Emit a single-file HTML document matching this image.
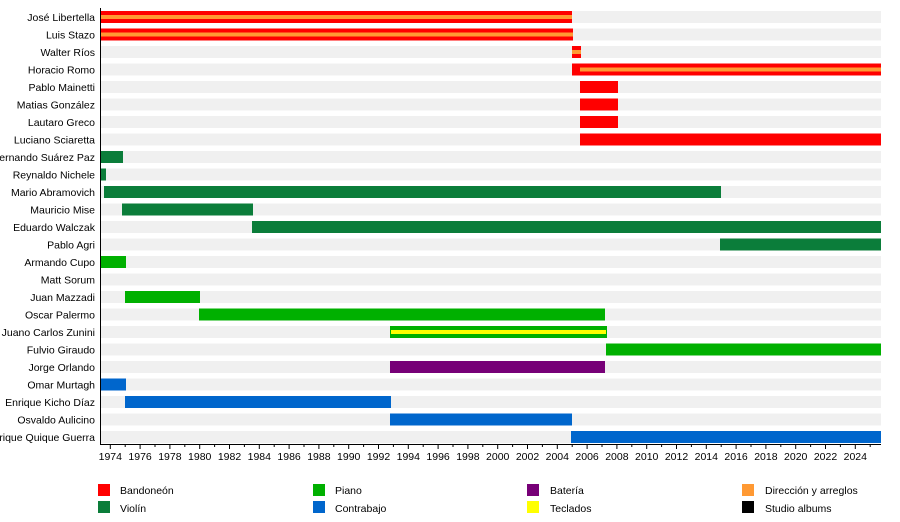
<!DOCTYPE html>
<html><head><meta charset="utf-8"><style>body{margin:0;background:#fff}svg{display:block;font-family:"Liberation Sans",sans-serif}</style></head><body>
<svg id="s" width="900" height="522" xmlns="http://www.w3.org/2000/svg">
<g font-size="10.5" fill="#000" text-anchor="end">
<text x="95" y="21">José Libertella</text>
<text x="95" y="38.5">Luis Stazo</text>
<text x="95" y="56">Walter Ríos</text>
<text x="95" y="73.5">Horacio Romo</text>
<text x="95" y="91">Pablo Mainetti</text>
<text x="95" y="108.5">Matias González</text>
<text x="95" y="126">Lautaro Greco</text>
<text x="95" y="143.5">Luciano Sciaretta</text>
<text x="95" y="161">Fernando Suárez Paz</text>
<text x="95" y="178.5">Reynaldo Nichele</text>
<text x="95" y="196">Mario Abramovich</text>
<text x="95" y="213.5">Mauricio Mise</text>
<text x="95" y="231">Eduardo Walczak</text>
<text x="95" y="248.5">Pablo Agri</text>
<text x="95" y="266">Armando Cupo</text>
<text x="95" y="283.5">Matt Sorum</text>
<text x="95" y="301">Juan Mazzadi</text>
<text x="95" y="318.5">Oscar Palermo</text>
<text x="95" y="336">Juano Carlos Zunini</text>
<text x="95" y="353.5">Fulvio Giraudo</text>
<text x="95" y="371">Jorge Orlando</text>
<text x="95" y="388.5">Omar Murtagh</text>
<text x="95" y="406">Enrique Kicho Díaz</text>
<text x="95" y="423.5">Osvaldo Aulicino</text>
<text x="95" y="441">Enrique Quique Guerra</text>
</g>
<g id="bg" fill="#f0f0f0"></g>
<g id="bars"></g>
<line x1="100.5" y1="8" x2="100.5" y2="444" stroke="#000"/>
<line x1="100" y1="444.5" x2="881" y2="444.5" stroke="#000"/>
<g id="ticks" stroke="#000"></g>
<g id="lbl" font-size="10.5" text-anchor="middle"></g>
<g font-size="10.5">
<rect x="98" y="484" width="12" height="12" fill="#ff0000"/><text x="120" y="494">Bandoneón</text>
<rect x="98" y="501" width="12" height="12" fill="#0b7d3a"/><text x="120" y="512">Violín</text>
<rect x="313" y="484" width="12" height="12" fill="#00b000"/><text x="335" y="494">Piano</text>
<rect x="313" y="501" width="12" height="12" fill="#0066cc"/><text x="335" y="512">Contrabajo</text>
<rect x="527" y="484" width="12" height="12" fill="#770077"/><text x="550" y="494">Batería</text>
<rect x="527" y="501" width="12" height="12" fill="#ffff00"/><text x="550" y="512">Teclados</text>
<rect x="742" y="484" width="12" height="12" fill="#ff9933"/><text x="765" y="494">Dirección y arreglos</text>
<rect x="742" y="501" width="12" height="12" fill="#000"/><text x="765" y="512">Studio albums</text>
</g>
</svg>
<script>
const NS="http://www.w3.org/2000/svg",R="#ff0000",V="#0b7d3a",P="#00b000",B="#0066cc",U="#770077";
function r(g,x1,i,x2,c,h,dy){const e=document.createElementNS(NS,"rect");e.setAttribute("x",x1);e.setAttribute("y",11+17.5*i+(dy||0));e.setAttribute("width",x2-x1);e.setAttribute("height",h||12);e.setAttribute("fill",c);document.getElementById(g).appendChild(e);}
for(let i=0;i<25;i++)r("bg",101,i,881,"#f0f0f0");
const d=[[0,101,572,R,"#ff9933",101],[1,101,573,R,"#ff9933",101],[2,572,581,R,"#ff9933",572],[3,572,881,R,"#ff9933",580],[4,580,618,R],[5,580,618,R],[6,580,618,R],[7,580,881,R],[8,101,123,V],[9,101,106,V],[10,104,721,V],[11,122,253,V],[12,252,881,V],[13,720,881,V],[14,101,126,P],[16,125,200,P],[17,199,605,P],[18,390,607,P,"#ffff00",391],[19,606,881,P],[20,390,605,U],[21,101,126,B],[22,125,391,B],[23,390,572,B],[24,571,881,B]];
d.forEach(a=>{r("bars",a[1],a[0],a[2],a[3]);if(a[4])r("bars",a[5],a[0],a[2]-(a[4]=="#ffff00"?1:0),a[4],4,4);});
const t=document.getElementById("ticks"),l=document.getElementById("lbl");
for(let y=1974;y<=2025;y++){const x=110.3+(y-1974)*14.9;const e=document.createElementNS(NS,"line");e.setAttribute("x1",x);e.setAttribute("x2",x);e.setAttribute("y1",444);e.setAttribute("y2",y%2?447:449);t.appendChild(e);
if(y%2==0&&y<=2024){const s=document.createElementNS(NS,"text");s.setAttribute("x",x);s.setAttribute("y",460);s.textContent=y;l.appendChild(s);}}
</script>
</body></html>
